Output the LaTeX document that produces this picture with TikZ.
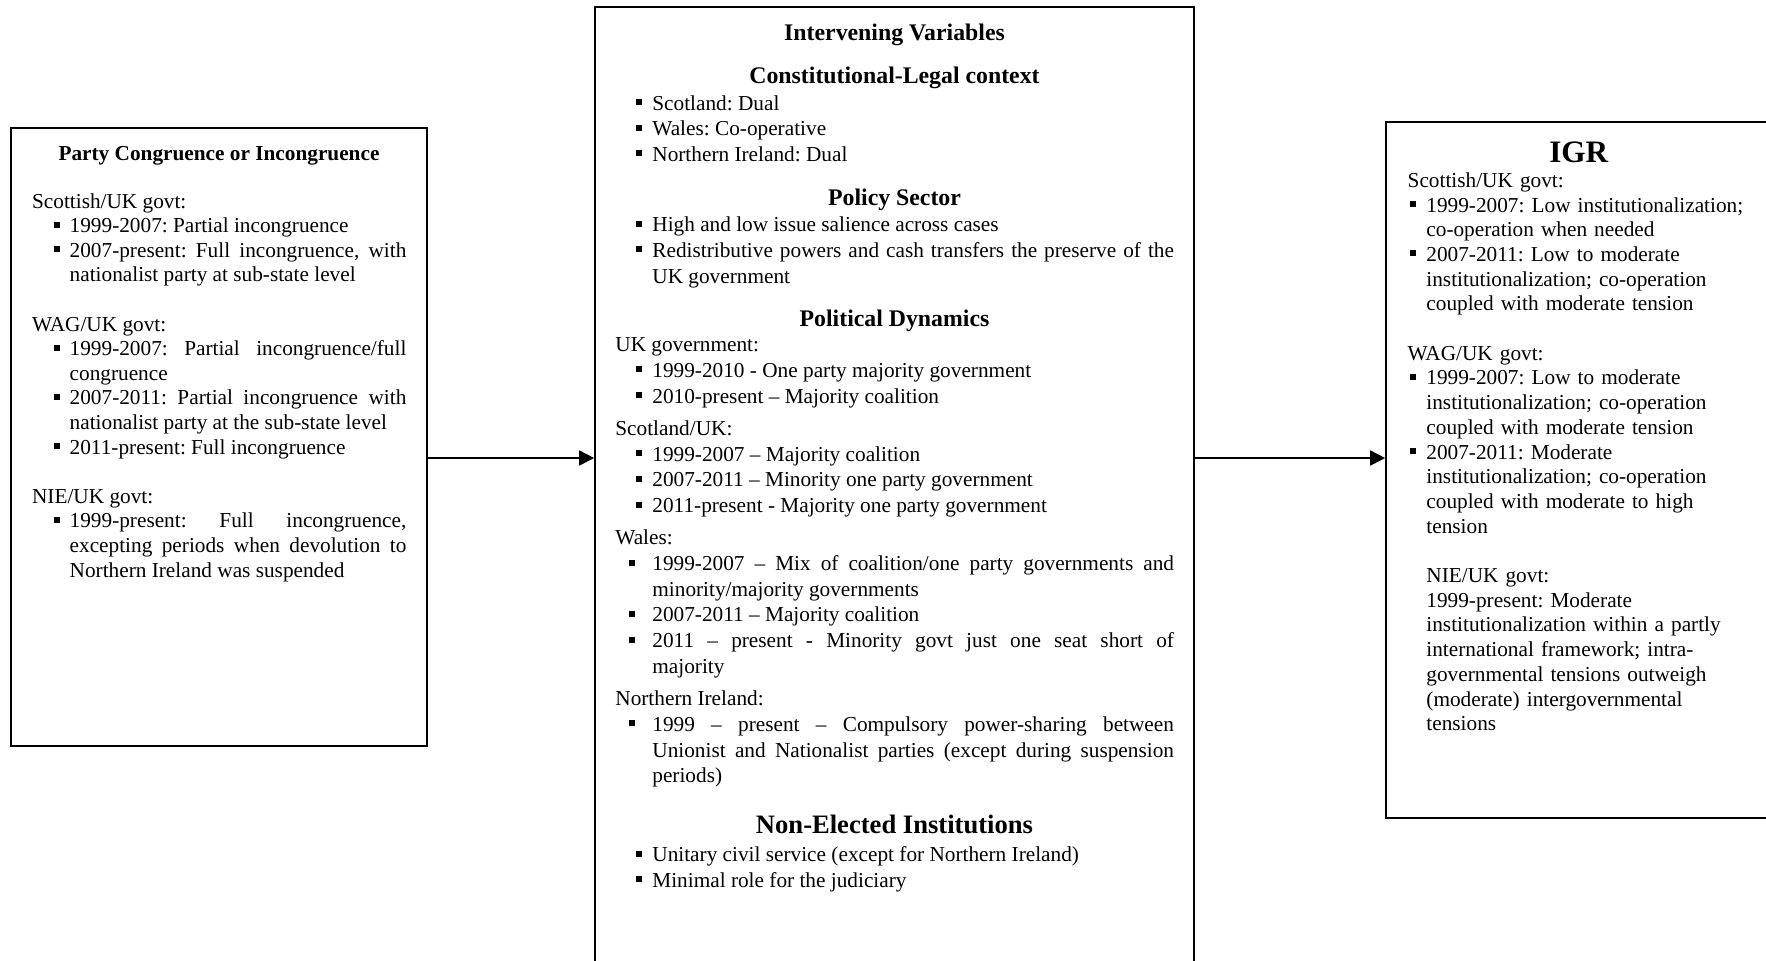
\documentclass[tikz,border=0pt]{standalone}
\usepackage{fontspec}
\setmainfont{Liberation Serif}
\usetikzlibrary{arrows.meta}
\frenchspacing
\tolerance=10000
\hyphenpenalty=10000
\newlength\bulpos
\newlength\bulhang
\newcommand\itm[1]{\hangindent=\bulhang\hangafter=1\hspace*{\bulpos}\rlap{\rule[2.5pt]{3pt}{3pt}}\hspace*{\dimexpr\bulhang-\bulpos\relax}#1\par}
\begin{document}
\begin{tikzpicture}[x=0.5pt,y=-0.5pt,
	panel/.style={draw=black,line width=0.8pt,rectangle,inner sep=0pt},
	link/.style={line width=0.8pt,-{Triangle[length=7.5pt,width=7.5pt]}},
	head/.style={anchor=base,inner sep=0pt,font={\fontsize{11.9}{13}\selectfont\bfseries}},
	body/.style={anchor=base west,inner sep=0pt,align=justify,font={\fontsize{10.64}{12.3}\selectfont}},
	midbody/.style={body,text width=279.3pt,font={\fontsize{10.64}{12.85}\selectfont}}]
		\useasboundingbox (0,0) rectangle (1766,960);
		\clip (0,0) rectangle (1766,960);
		\node[panel,minimum width=208pt,minimum height=309pt] (cong) at (219,437) {};
		\node[panel,minimum width=299.5pt,minimum height=496.5pt] (inter) at (894.5,503.5) {};
		\node[panel,minimum width=192.5pt,minimum height=348pt] (igr) at (1578.5,470) {};
		\coordinate (lvl) at (0,458);
		\draw[link] (cong.east |- lvl) -- (inter.west |- lvl);
		\draw[link] (inter.east |- lvl) -- (igr.west |- lvl);
		% left box
		\node[head,font={\fontsize{10.64}{12}\selectfont\bfseries}] (congtitle) at (219,160) {Party Congruence or Incongruence};
		\node[body,text width=187.15pt] (conglist) at (31.7,208) {\setlength\bulpos{10.8pt}\setlength\bulhang{18.8pt}Scottish/UK govt:\par
			\itm{1999-2007: Partial incongruence}
			\itm{2007-present: Full incongruence, with\linebreak nationalist party at sub-state level}
			\vspace{12.3pt}
			WAG/UK govt:\par
			\itm{1999-2007: Partial incongruence/full\linebreak congruence}
			\itm{2007-2011: Partial incongruence with\linebreak nationalist party at the sub-state level}
			\itm{2011-present: Full incongruence}
			\vspace{12.3pt}
			NIE/UK govt:\par
			\itm{1999-present: Full incongruence,\linebreak excepting periods when devolution to\linebreak Northern Ireland was suspended}};
		% middle box
		\node[head] (intertitle) at (894.5,40.7) {Intervening Variables};
		\node[head] (ctxhead) at (894.5,83.3) {Constitutional-Legal context};
		\node[midbody] (ctxlist) at (615,110) {\setlength\bulpos{10.5pt}\setlength\bulhang{18.5pt}%
			\itm{Scotland: Dual}
			\itm{Wales: Co-operative}
			\itm{Northern Ireland: Dual}};
		\node[head] (secthead) at (894.5,205) {Policy Sector};
		\node[midbody] (sectlist) at (615,231.7) {\setlength\bulpos{10.5pt}\setlength\bulhang{18.5pt}%
			\itm{High and low issue salience across cases}
			\itm{Redistributive powers and cash transfers the preserve of the\linebreak UK government}};
		\node[head] (dynhead) at (894.5,326) {Political Dynamics};
		\node[midbody] (dynlist) at (615,351.7) {\setlength\bulpos{10.5pt}\setlength\bulhang{18.5pt}UK government:\par
			\itm{1999-2010 - One party majority government}
			\itm{2010-present – Majority coalition}
			\vspace{3.3pt}
			Scotland/UK:\par
			\itm{1999-2007 – Majority coalition}
			\itm{2007-2011 – Minority one party government}
			\itm{2011-present - Majority one party government}
			\vspace{3.3pt}
			Wales:\par
			\setlength\bulpos{7pt}%
			\itm{1999-2007 – Mix of coalition/one party governments and\linebreak minority/majority governments}
			\itm{2007-2011 – Majority coalition}
			\itm{2011 – present - Minority govt just one seat short of\linebreak majority}
			\vspace{3.3pt}
			Northern Ireland:\par
			\itm{1999 – present – Compulsory power-sharing between\linebreak Unionist and Nationalist parties (except during suspension\linebreak periods)}};
		\node[head,font={\fontsize{13.3}{15}\selectfont\bfseries}] (nonhead) at (894.5,833.3) {Non-Elected Institutions};
		\node[midbody] (nonlist) at (615,861.7) {\setlength\bulpos{10.5pt}\setlength\bulhang{18.5pt}%
			\itm{Unitary civil service (except for Northern Ireland)}
			\itm{Minimal role for the judiciary}};
		% right box
		\node[head,font={\fontsize{15.6}{17}\selectfont\bfseries}] (igrtitle) at (1578.7,162.7) {IGR};
		\node[body,align=left,text width=175pt,font={\fontsize{10.64}{12.35}\selectfont}] (igrlist) at (1407.3,187.3) {\setlength\bulpos{0.9pt}\setlength\bulhang{9.35pt}Scottish/UK govt:\par
			\itm{1999-2007: Low institutionalization;\newline co-operation when needed}
			\itm{2007-2011: Low to moderate\newline institutionalization; co-operation\newline coupled with moderate tension}
			\vspace{12.35pt}
			WAG/UK govt:\par
			\itm{1999-2007: Low to moderate\newline institutionalization; co-operation\newline coupled with moderate tension}
			\itm{2007-2011: Moderate\newline institutionalization; co-operation\newline coupled with moderate to high\newline tension}
			\vspace{12.35pt}
			{\leftskip=9.35pt NIE/UK govt:\newline 1999-present: Moderate\newline institutionalization within a partly\newline international framework; intra-\newline governmental tensions outweigh\newline (moderate) intergovernmental\newline tensions\par}};
	\end{tikzpicture}
\end{document}
